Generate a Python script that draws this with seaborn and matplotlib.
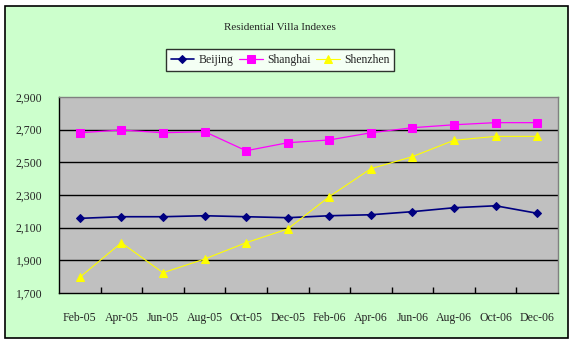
import matplotlib
matplotlib.use("Agg")
import matplotlib.pyplot as plt
import seaborn as sns
import pandas as pd
from matplotlib.patches import Rectangle
from matplotlib.ticker import FixedLocator, FuncFormatter

months = ["Feb-05", "Apr-05", "Jun-05", "Aug-05", "Oct-05", "Dec-05",
          "Feb-06", "Apr-06", "Jun-06", "Aug-06", "Oct-06", "Dec-06"]
beijing = [2157, 2167, 2167, 2173, 2167, 2161, 2173, 2179, 2198, 2222, 2234, 2188]
shanghai = [2681, 2698, 2681, 2688, 2571, 2620, 2637, 2681, 2712, 2730, 2743, 2743]
shenzhen = [1796, 2008, 1824, 1908, 2008, 2092, 2290, 2461, 2535, 2635, 2659, 2659]
series_names = ["Beijing", "Shanghai", "Shenzhen"]
y_ticks = [1700, 1900, 2100, 2300, 2500, 2700, 2900]
title = "Residential Villa Indexes"

sns.set_theme(style="white")
plt.rcParams["font.family"] = ["Liberation Serif", "DejaVu Serif"]

rows = []
for name, vals in zip(series_names, [beijing, shanghai, shenzhen]):
    for i, (m, v) in enumerate(zip(months, vals)):
        rows.append({"idx": i, "month": m, "series": name, "value": v})
df = pd.DataFrame(rows)

fig = plt.figure(figsize=(5.74, 3.44), dpi=100)
fig.patch.set_facecolor("white")
fig.patches.append(Rectangle((5 / 574, 6 / 344), 563 / 574, 332 / 344,
                             transform=fig.transFigure, facecolor="#CCFFCC",
                             edgecolor="black", linewidth=1.2, zorder=-10))

ax = fig.add_axes([59 / 574, 1 - 293 / 344, 499 / 574, 196 / 344])
ax.set_facecolor("#C0C0C0")

palette = {"Beijing": "#000080", "Shanghai": "#FF00FF", "Shenzhen": "#FFFF00"}
markers = {"Beijing": "D", "Shanghai": "s", "Shenzhen": "^"}
sizes = {"Beijing": 4.5, "Shanghai": 5.5, "Shenzhen": 6}
widths = {"Beijing": 1.2, "Shanghai": 0.9, "Shenzhen": 0.8}

for name in series_names:
    sub = df[df["series"] == name]
    sns.lineplot(data=sub, x="idx", y="value", ax=ax, color=palette[name],
                 marker=markers[name], markersize=sizes[name],
                 markeredgecolor=palette[name], linewidth=widths[name], label=name,
                 legend=False, zorder=3)

ax.set_xlim(-0.5, len(months) - 0.5)
ax.set_ylim(y_ticks[0], y_ticks[-1])
ax.set_yticks(y_ticks)
ax.yaxis.set_major_formatter(FuncFormatter(lambda v, p: f"{int(v):,}"))
ax.set_xticks(range(len(months)))
ax.set_xticklabels(months)
ax.xaxis.set_minor_locator(FixedLocator([i + 0.5 for i in range(len(months) - 1)]))
ax.tick_params(axis="x", which="major", length=0, pad=14, labelsize=8.5)
ax.tick_params(axis="x", which="minor", length=4, direction="in", color="black", width=1,
               bottom=True)
ax.tick_params(axis="y", which="major", length=0, pad=12, labelsize=8.5)
ax.set_xlabel("")
ax.set_ylabel("")
for gy in y_ticks[1:-1]:
    ax.axhline(gy, color="black", linewidth=1.0, zorder=1)

for s in ["top", "right"]:
    ax.spines[s].set_color("#808080")
    ax.spines[s].set_linewidth(1.0)
for s in ["left", "bottom"]:
    ax.spines[s].set_color("black")
    ax.spines[s].set_linewidth(1.0)

fig.text(280 / 574, 1 - 27 / 344, title, ha="center", va="center", fontsize=8)

handles, labels = ax.get_legend_handles_labels()
leg = fig.legend(handles, labels, loc="center", bbox_to_anchor=(280 / 574, 1 - 60 / 344),
                 ncol=3, frameon=True, fancybox=False, fontsize=8.5,
                 handlelength=2.0, handletextpad=0.35, columnspacing=0.5,
                 borderpad=0.4, borderaxespad=0)
leg.get_frame().set_edgecolor("black")
leg.get_frame().set_linewidth(1.0)
leg.get_frame().set_facecolor("white")

fig.savefig("out.png", dpi=100, facecolor=fig.get_facecolor())
